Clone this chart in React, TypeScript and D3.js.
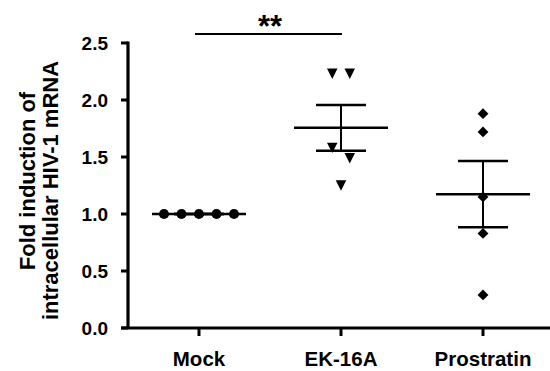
import * as d3 from 'd3';

const categories = ['Mock', 'EK-16A', 'Prostratin'];
const mockValues = [1.0, 1.0, 1.0, 1.0, 1.0];
const ek16aValues = [2.23, 2.23, 1.58, 1.49, 1.25];
const prostratinValues = [1.88, 1.72, 1.15, 0.83, 0.29];
const yTicks = [0, 0.5, 1.0, 1.5, 2.0, 2.5];
const yTitle = ['Fold induction of', 'intracellular HIV-1 mRNA'];
const sigLabel = '**';

const W = 550;
const H = 371;
const FONT = 'Arial, "Liberation Sans", Helvetica, sans-serif';

// custom marker shapes (GraphPad-like)
const triangleDown = {
    draw(ctx: any, size: number) {
        const w = Math.sqrt(size);
        ctx.moveTo(-w / 2, -w / 2);
        ctx.lineTo(w / 2, -w / 2);
        ctx.lineTo(0, w / 2);
        ctx.closePath();
    },
};
const diamond = {
    draw(ctx: any, size: number) {
        const r = Math.sqrt(size) / 2;
        ctx.moveTo(0, -r);
        ctx.lineTo(r, 0);
        ctx.lineTo(0, r);
        ctx.lineTo(-r, 0);
        ctx.closePath();
    },
};

const groups = [
    { name: categories[0], values: mockValues, shape: d3.symbolCircle, size: 80 },
    { name: categories[1], values: ek16aValues, shape: triangleDown, size: 110 },
    { name: categories[2], values: prostratinValues, shape: diamond, size: 118 },
];

// spread points that would overlap, like a column scatter plot
function spread(values: number[], y: (v: number) => number, gap: number, minDist: number) {
    const idx = values.map((v, i) => i).sort((a, b) => values[b] - values[a]);
    const offsets = new Array(values.length).fill(0);
    let cluster: number[] = [];
    const flush = () => {
        cluster.forEach((k, j) => {
            offsets[k] = (j - (cluster.length - 1) / 2) * gap;
        });
        cluster = [];
    };
    idx.forEach(i => {
        if (cluster.length && Math.abs(y(values[i]) - y(values[cluster[cluster.length - 1]])) >= minDist) flush();
        cluster.push(i);
    });
    flush();
    return offsets;
}

export default function App() {
    const x = d3.scalePoint<string>().domain(categories).range([128, 554]).padding(0.5);
    const y = d3.scaleLinear().domain([0, 2.5]).range([328, 43]);
    const axisX = 128;
    const axisY = y(0);

    return (
        <svg width={W} height={H} style={{ position: 'absolute', left: 0, top: 0, background: '#fff' }} fontFamily={FONT}>
            {/* Y axis */}
            <line x1={axisX} x2={axisX} y1={y(2.5) - 1.5} y2={axisY} stroke="#000" strokeWidth={3.2} />
            {yTicks.map(t => (
                <g key={t}>
                    <line x1={axisX - 7} x2={axisX} y1={y(t)} y2={y(t)} stroke="#000" strokeWidth={3} />
                    <text x={108} y={y(t)} dy="0.36em" textAnchor="end" fontSize={19} fontWeight="bold">
                        {t.toFixed(1)}
                    </text>
                </g>
            ))}
            {/* X axis */}
            <line x1={axisX - 7} x2={W} y1={axisY} y2={axisY} stroke="#000" strokeWidth={3.2} />
            {categories.map(c => (
                <g key={c}>
                    <line x1={x(c)} x2={x(c)} y1={axisY} y2={axisY + 8} stroke="#000" strokeWidth={3} />
                    <text x={x(c)} y={366} textAnchor="middle" fontSize={20.5} fontWeight="bold">
                        {c}
                    </text>
                </g>
            ))}
            {/* Y title */}
            <text transform={`translate(35,181) rotate(-90)`} textAnchor="middle" fontSize={22} fontWeight="bold">
                {yTitle[0]}
            </text>
            <text transform={`translate(57.5,190.5) rotate(-90)`} textAnchor="middle" fontSize={22} fontWeight="bold">
                {yTitle[1]}
            </text>
            {/* groups */}
            {groups.map(g => {
                const cx = x(g.name) as number;
                const mean = d3.mean(g.values) as number;
                const sem = (d3.deviation(g.values) || 0) / Math.sqrt(g.values.length);
                const offs = spread(g.values, y, 17.5, 13);
                const sym = d3.symbol().type(g.shape as any).size(g.size)();
                return (
                    <g key={g.name}>
                        <line x1={cx - 47} x2={cx + 47} y1={y(mean)} y2={y(mean)} stroke="#000" strokeWidth={2.5} />
                        <line x1={cx} x2={cx} y1={y(mean + sem)} y2={y(mean - sem)} stroke="#000" strokeWidth={2} />
                        <line x1={cx - 25} x2={cx + 25} y1={y(mean + sem)} y2={y(mean + sem)} stroke="#000" strokeWidth={2.5} />
                        <line x1={cx - 25} x2={cx + 25} y1={y(mean - sem)} y2={y(mean - sem)} stroke="#000" strokeWidth={2.5} />
                        {g.values.map((v, i) => (
                            <path key={i} d={sym || ''} transform={`translate(${cx + offs[i]},${y(v)})`} fill="#000" />
                        ))}
                    </g>
                );
            })}
            {/* significance */}
            <line x1={(x(categories[0]) as number) - 4} x2={(x(categories[1]) as number) + 1} y1={34} y2={34} stroke="#000" strokeWidth={2} />
            <text x={((x(categories[0]) as number) + (x(categories[1]) as number)) / 2} y={37} textAnchor="middle" fontSize={31} fontWeight="bold">
                {sigLabel}
            </text>
        </svg>
    );
}
